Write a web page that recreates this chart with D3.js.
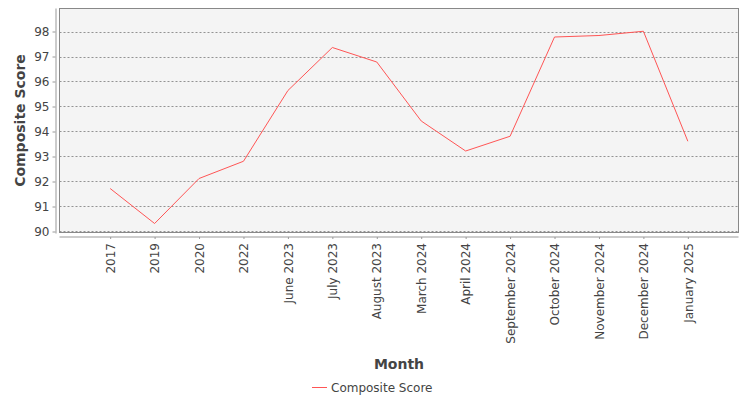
<!DOCTYPE html>
<html><head><meta charset="utf-8">
<script src="https://cdn.jsdelivr.net/npm/d3@7"></script>
<style>body{margin:0;background:#fff}svg{display:block}</style>
</head><body>
<svg id="c" width="750" height="400"></svg>
<script>
const categories = ["2017","2019","2020","2022","June 2023","July 2023","August 2023","March 2024","April 2024","September 2024","October 2024","November 2024","December 2024","January 2025"];
const scores = [91.72,90.32,92.12,92.81,95.64,97.36,96.78,94.42,93.22,93.81,97.78,97.84,98.01,93.61];
const yTicks = [90,91,92,93,94,95,96,97,98];
const seriesName = "Composite Score";
const xTitle = "Month", yTitle = "Composite Score";

const font = "'DejaVu Sans', sans-serif";
const svg = d3.select("#c");
const P = {l:59.5, t:8.5, r:738.5, b:232.5};
const x = d3.scalePoint().domain(categories).range([P.l, P.r]).padding(1.14);
const y = d3.scaleLinear().domain([89.96, 98.92]).range([P.b, P.t]);

svg.append("rect").attr("x",P.l).attr("y",P.t).attr("width",P.r-P.l).attr("height",P.b-P.t)
  .attr("fill","#f4f4f4");

svg.append("g").selectAll("line").data(yTicks).join("line")
  .attr("x1",P.l).attr("x2",P.r).attr("y1",d=>Math.round(y(d))+0.5).attr("y2",d=>Math.round(y(d))+0.5)
  .attr("stroke","#7a7a7a").attr("stroke-width",0.8).attr("stroke-dasharray","2,2");

svg.append("rect").attr("x",P.l).attr("y",P.t).attr("width",P.r-P.l).attr("height",P.b-P.t)
  .attr("fill","none").attr("stroke","#888").attr("stroke-width",1);

// Y axis
const ya = svg.append("g").attr("transform",`translate(${P.l-4},0)`)
  .call(d3.axisLeft(y).tickValues(yTicks).tickSize(3).tickPadding(3).tickFormat(d3.format("d")));
ya.select(".domain").attr("d",`M0.5,${P.t}V${P.b+1}`).attr("stroke","#999");
ya.selectAll(".tick line").attr("stroke","#999");
ya.selectAll("text").attr("font-family",font).attr("font-size",12).attr("fill","#444");

// X axis
const xa = svg.append("g").attr("transform",`translate(0,${P.b+4.5})`)
  .call(d3.axisBottom(x).tickSize(2).tickPadding(3).tickSizeOuter(0));
xa.select(".domain").attr("d",`M${P.l},0H${P.r}`).attr("stroke","#999");
xa.selectAll(".tick line").attr("stroke","#999");
xa.selectAll("text").attr("font-family",font).attr("font-size",12).attr("fill","#444")
  .attr("transform","rotate(-90)").attr("text-anchor","end").attr("dx","-6").attr("dy","-0.3em")
  .attr("x",0).attr("y",0);
xa.selectAll(".tick text").attr("dy","0.35em").attr("dx",0).attr("x",-6);

// line
svg.append("path").datum(scores)
  .attr("d", d3.line().x((d,i)=>x(categories[i])).y(d=>y(d)))
  .attr("fill","none").attr("stroke","#ff5555").attr("stroke-width",1);

// titles
svg.append("text").attr("x",(P.l+P.r)/2).attr("y",369).attr("text-anchor","middle")
  .attr("font-family",font).attr("font-size",14).attr("font-weight","bold").attr("fill","#444").text(xTitle);
svg.append("text").attr("transform",`translate(25,${(P.t+P.b)/2}) rotate(-90)`).attr("text-anchor","middle")
  .attr("font-family",font).attr("font-size",14).attr("font-weight","bold").attr("fill","#444").text(yTitle);

// legend
const lg = svg.append("g");
lg.append("line").attr("x1",312).attr("x2",327).attr("y1",387.5).attr("y2",387.5).attr("stroke","#ff5555").attr("stroke-width",1);
lg.append("text").attr("x",331).attr("y",392).attr("font-family",font).attr("font-size",12).attr("fill","#444").text(seriesName);
</script>
</body></html>
